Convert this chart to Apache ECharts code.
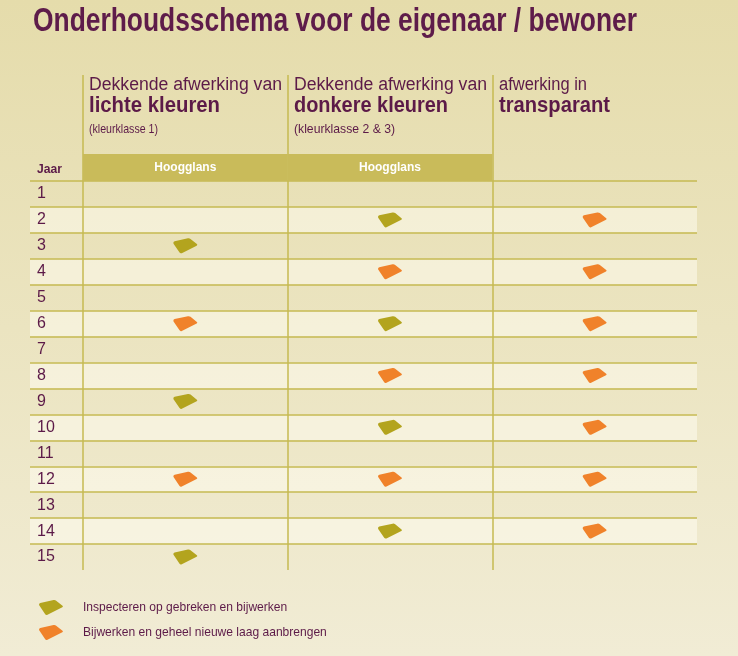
<!DOCTYPE html>
<html><head><meta charset="utf-8">
<script src="https://cdn.jsdelivr.net/npm/echarts@6/dist/echarts.min.js"></script>
<style>html,body{margin:0;padding:0;background:#ebe4c2;}#c{width:738px;height:656px;}</style>
</head><body><div id="c"></div>
<script>
// ---- data ----
const titleText = 'Onderhoudsschema voor de eigenaar / bewoner';
const years = ['1','2','3','4','5','6','7','8','9','10','11','12','13','14','15'];
const columns = ['lichte kleuren','donkere kleuren','transparant'];
const headerLine1 = ['Dekkende afwerking van','Dekkende afwerking van','afwerking in'];
const headerLine2 = ['lichte kleuren','donkere kleuren','transparant'];
const headerLine3 = ['(kleurklasse 1)','(kleurklasse 2 & 3)',''];
const yearHeader = 'Jaar';
const bandLabels = ['Hoogglans','Hoogglans',''];
const bandValues = [1, 1, '-'];
const seriesNames = ['Inspecteren op gebreken en bijwerken','Bijwerken en geheel nieuwe laag aanbrengen'];
const inspectLichte = [3, 9, 15];
const inspectDonkere = [2, 6, 10, 14];
const inspectTransparant = [];
const renewLichte = [6, 12];
const renewDonkere = [4, 8, 12];
const renewTransparant = [2, 4, 6, 8, 10, 12, 14];

// ---- layout / style ----
const F = '"Liberation Sans","Arimo",Arial,sans-serif';
const PURPLE = '#5c1a48';
const LINE = '#c6ba52';
const BAND = '#c9bb5a';
const OLIVE = '#b3a41e';
const ORANGE = '#f0822a';
const SHAPE = 'path://M0.3,5Q0,3.4 1.5,3L14.5,0.2Q16,0 17,0.8L23.2,5.8Q24.2,6.7 23,7.3L8.5,14.6Q7,15.2 6.3,14L0.6,5.6Z';
const colLeft = [89, 294, 499];
const w1 = [193, 193, 88], w2 = [131, 154, 111], w3 = [69, 101, 0];

const mctx = document.createElement('canvas').getContext('2d');
function fitText(text, font, x, y, targetW, fill) {
  mctx.font = font;
  const s = targetW / mctx.measureText(text).width;
  return {type:'text', x:x, y:y, scaleX:s, silent:true,
    style:{text:text, font:font, fill:fill, verticalAlign:'middle', align:'left'}};
}
function fitSize(text, weight, baseSize, targetW) {
  mctx.font = weight + ' ' + baseSize + 'px ' + F;
  return baseSize * targetW / mctx.measureText(text).width;
}

function pts(list, col) { return list.map(y => [columns[col], String(y)]); }
const inspectData = [].concat(pts(inspectLichte,0), pts(inspectDonkere,1), pts(inspectTransparant,2));
const renewData = [].concat(pts(renewLichte,0), pts(renewDonkere,1), pts(renewTransparant,2));

const graphics = [fitText(titleText, 'bold 33px ' + F, 33, 22, 604, '#5e1c4a')];
for (let i = 0; i < 3; i++) {
  graphics.push(fitText(headerLine1[i], '18px ' + F, colLeft[i], 85, w1[i], PURPLE));
  graphics.push(fitText(headerLine2[i], 'bold 22px ' + F, colLeft[i], 106, w2[i], PURPLE));
  if (headerLine3[i]) graphics.push(fitText(headerLine3[i], '13px ' + F, colLeft[i], 129, w3[i], PURPLE));
}
graphics.push(fitText(yearHeader, 'bold 13px ' + F, 37, 169, 25, PURPLE));

const legendSize = fitSize(seriesNames[1], 'normal', 12, 244);

const splitLineCfg = {show:true, interval:0, showMinLine:true, showMaxLine:false, lineStyle:{color:LINE, width:1.5}};
const splitAreaCfg = {show:true, interval:0, areaStyle:{color:['rgba(0,0,0,0)','rgba(255,253,244,0.5)']}};

const chart = echarts.init(document.getElementById('c'), null, {renderer:'canvas'});
chart.setOption({
  backgroundColor: new echarts.graphic.LinearGradient(0,0,0,1,[{offset:0,color:'#e5dcab'},{offset:1,color:'#f1ecd5'}]),
  animation: false,
  graphic: graphics,
  grid: [
    {left:30, top:181, width:53, height:389},
    {left:83, top:181, width:614, height:389},
    {left:83, top:75, width:614, height:106}
  ],
  xAxis: [
    {gridIndex:0, type:'value', show:false, min:0, max:1},
    {gridIndex:1, type:'category', data:columns, axisLine:{show:false}, axisTick:{show:false}, axisLabel:{show:false}, splitLine:splitLineCfg},
    {gridIndex:2, type:'category', data:columns, axisLine:{show:false}, axisTick:{show:false}, axisLabel:{show:false}, splitLine:splitLineCfg}
  ],
  yAxis: [
    {gridIndex:0, type:'category', data:years, inverse:true, axisLine:{show:false}, axisTick:{show:false},
      axisLabel:{inside:true, margin:7, interval:0, color:PURPLE, fontSize:16, fontFamily:F},
      splitLine:splitLineCfg, splitArea:splitAreaCfg},
    {gridIndex:1, type:'category', data:years, inverse:true, axisLine:{show:false}, axisTick:{show:false},
      axisLabel:{show:false}, splitLine:splitLineCfg, splitArea:splitAreaCfg},
    {gridIndex:2, type:'value', min:0, max:106/27, show:false}
  ],
  legend: {data: seriesNames, orient:'vertical', left:34, top:595, itemWidth:24, itemHeight:15, itemGap:10,
    selectedMode:false, textStyle:{fontFamily:F, fontSize:legendSize, color:PURPLE, padding:[0,0,0,15]}},
  series: [
    {type:'bar', xAxisIndex:2, yAxisIndex:2, data:bandValues, barWidth:'100%', silent:true,
      itemStyle:{color:BAND},
      label:{show:true, position:'inside', formatter: p => bandLabels[p.dataIndex], color:'#fff', fontWeight:'bold', fontSize:12, fontFamily:F}},
    {name: seriesNames[0], type:'scatter', xAxisIndex:1, yAxisIndex:1, data: inspectData,
      symbol: SHAPE, symbolSize:[24,15], itemStyle:{color:OLIVE, opacity:1}},
    {name: seriesNames[1], type:'scatter', xAxisIndex:1, yAxisIndex:1, data: renewData,
      symbol: SHAPE, symbolSize:[24,15], itemStyle:{color:ORANGE, opacity:1}}
  ]
});
</script></body></html>
